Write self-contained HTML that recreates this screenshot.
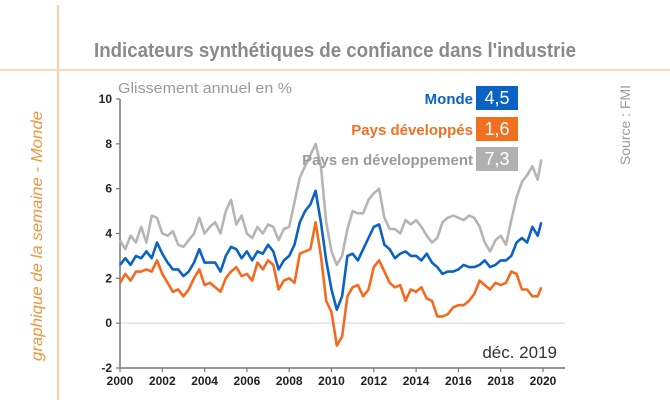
<!DOCTYPE html>
<html><head><meta charset="utf-8">
<style>
body{margin:0;background:#fff;}
svg{display:block;font-family:"Liberation Sans",sans-serif;}
</style></head>
<body>
<svg id="chart" width="670" height="400" viewBox="0 0 670 400">
<line x1="58" y1="5" x2="58" y2="400" stroke="#f3b26b" stroke-width="1.2"/>
<line x1="0" y1="70" x2="670" y2="70" stroke="#f5cf9c" stroke-width="1.5"/>
<text x="335" y="57" text-anchor="middle" font-size="20.5" font-weight="bold" fill="#8a8a8a" textLength="482" lengthAdjust="spacingAndGlyphs">Indicateurs synthétiques de confiance dans l'industrie</text>
<text transform="translate(42,236) rotate(-90)" text-anchor="middle" font-size="16" font-style="italic" fill="#f0963c" textLength="250" lengthAdjust="spacingAndGlyphs">graphique de la semaine  -  Monde</text>
<text transform="translate(630,125) rotate(-90)" text-anchor="middle" font-size="14" fill="#999">Source : FMI</text>
<text x="118" y="93" font-size="15" fill="#999" textLength="174" lengthAdjust="spacingAndGlyphs">Glissement annuel en %</text>
<text x="557" y="358" text-anchor="end" font-size="17" fill="#333">déc. 2019</text>
<g id="axes"></g>
<g id="series"></g>
<g>
 <text x="473" y="104" text-anchor="end" font-size="15" font-weight="bold" fill="#0a63c4">Monde</text>
 <rect x="476" y="86" width="42" height="24" fill="#0a63c4"/>
 <text x="497" y="104" text-anchor="middle" font-size="18" fill="#fff">4,5</text>
 <text x="473" y="135" text-anchor="end" font-size="15" font-weight="bold" fill="#f07020">Pays développés</text>
 <rect x="476" y="117" width="42" height="24" fill="#f07020"/>
 <text x="497" y="135" text-anchor="middle" font-size="18" fill="#fff">1,6</text>
 <text x="473" y="165" text-anchor="end" font-size="15" font-weight="bold" fill="#9a9a9a">Pays en développement</text>
 <rect x="476" y="147" width="42" height="24" fill="#b0b0b0"/>
 <text x="497" y="165" text-anchor="middle" font-size="18" fill="#fff">7,3</text>
</g>
</svg>
<script>
const yTicks=[-2,0,2,4,6,8,10];
const xTicks=[2000,2002,2004,2006,2008,2010,2012,2014,2016,2018,2020];
const monde=[2.6,2.9,2.6,3.0,2.9,3.2,2.9,3.6,3.1,2.7,2.4,2.4,2.1,2.3,2.7,3.3,2.7,2.7,2.7,2.3,3.0,3.4,3.3,2.9,3.2,2.8,3.2,3.1,3.5,3.2,2.4,2.8,3.0,3.5,4.5,5.0,5.3,5.9,4.5,2.8,1.5,0.6,1.2,3.0,3.1,2.8,3.3,3.8,4.3,4.4,3.5,3.3,2.9,3.1,3.2,3.0,3.0,2.8,3.1,2.7,2.5,2.2,2.3,2.3,2.4,2.6,2.5,2.5,2.6,2.8,2.5,2.6,2.8,2.8,3.0,3.6,3.8,3.6,4.3,3.9,4.5];
const developpes=[1.8,2.2,1.9,2.3,2.3,2.4,2.3,2.8,2.2,1.8,1.4,1.5,1.2,1.5,2.0,2.4,1.7,1.8,1.6,1.4,2.0,2.3,2.5,2.1,2.2,1.9,2.7,2.4,2.8,2.6,1.5,1.9,2.0,1.8,3.1,3.2,3.3,4.5,3.0,1.0,0.5,-1.0,-0.6,1.2,1.6,1.7,1.2,1.5,2.5,2.8,2.3,1.8,1.6,1.7,1.0,1.5,1.4,1.6,1.1,1.0,0.3,0.3,0.4,0.7,0.8,0.8,1.0,1.3,1.9,1.7,1.5,1.8,1.7,1.8,2.3,2.2,1.5,1.5,1.2,1.2,1.6];
const developpement=[3.7,3.3,3.9,3.6,4.3,3.6,4.8,4.7,4.0,3.9,4.1,3.5,3.4,3.7,4.0,4.7,4.0,4.3,4.5,4.0,5.0,5.5,4.4,4.8,4.0,3.8,4.3,4.0,4.4,4.3,3.7,4.2,4.3,5.4,6.5,7.0,7.5,8.0,7.0,4.5,3.2,2.6,3.0,4.2,5.0,4.9,4.9,5.5,5.8,6.0,4.7,4.2,4.2,4.0,4.6,4.4,4.6,4.3,3.9,3.6,3.8,4.5,4.7,4.8,4.7,4.6,4.8,4.7,4.3,3.6,3.2,3.7,3.9,3.5,4.6,5.6,6.3,6.6,7.0,6.4,7.3];
const NS="http://www.w3.org/2000/svg";
const X=t=>120+(t-2000)*(543-120)/20;
const Y=v=>368-(v+2)*(368-99)/12;
const tOf=i=>i<80?2000+i*0.25:2019.92;
const ax=document.getElementById('axes');
function mk(tag,attrs,parent){const e=document.createElementNS(NS,tag);for(const k in attrs)e.setAttribute(k,attrs[k]);parent.appendChild(e);return e;}
let z=mk('line',{x1:120,x2:565,y1:Y(0),y2:Y(0),stroke:'#e2e2e2','stroke-width':1.5},ax);


let ya=mk('line',{x1:120,x2:120,y1:99,y2:368,stroke:'#777','stroke-width':1.5},ax);


let xa=mk('line',{x1:120,x2:565,y1:368,y2:368,stroke:'#777','stroke-width':1.5},ax);


yTicks.forEach(v=>{
 let tk=mk('line',{x1:116,x2:120,y1:Y(v),y2:Y(v),stroke:'#777','stroke-width':1.2},ax);
 
 
 let t=mk('text',{x:112,y:Y(v)+4,'text-anchor':'end','font-size':12,'font-weight':'bold',fill:'#222'},ax);
 t.textContent=v;
 
 
});
xTicks.forEach(v=>{
 let tk=mk('line',{x1:X(v),x2:X(v),y1:368,y2:372,stroke:'#777','stroke-width':1.2},ax);
 
 
 let t=mk('text',{x:X(v),y:385,'text-anchor':'middle','font-size':12,'font-weight':'bold',fill:'#222'},ax);
 t.textContent=v;
 
 
});
const sg=document.getElementById('series');
function line(data,color,name){
 const d=data.map((v,i)=>(i?'L':'M')+X(tOf(i)).toFixed(1)+','+Y(v).toFixed(1)).join('');
 const p=mk('path',{d:d,fill:'none',stroke:color,'stroke-width':2.6,'stroke-linejoin':'round'},sg);
 
 
}
line(developpement,'#b5b5b5','line-pays-en-developpement');
line(developpes,'#f56a1e','line-pays-developpes');
line(monde,'#0a63c4','line-monde');
</script>
</body></html>
